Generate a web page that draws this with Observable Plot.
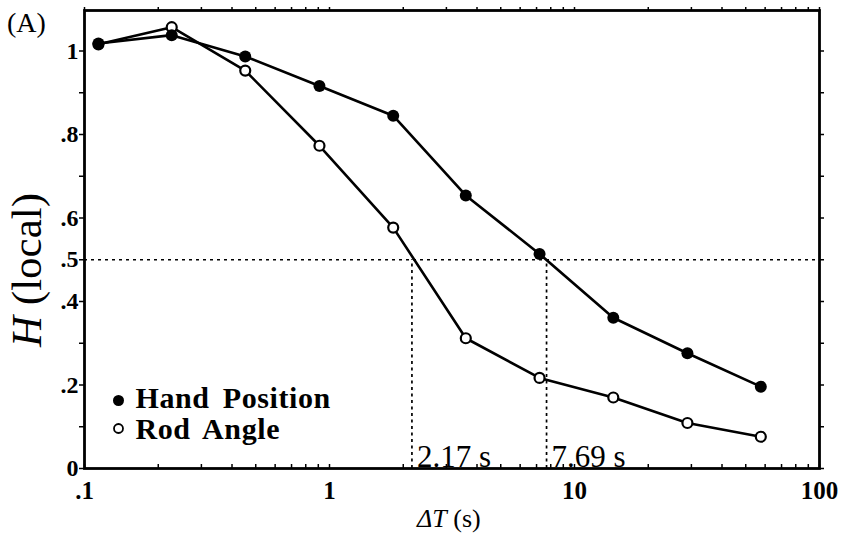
<!DOCTYPE html>
<html><head><meta charset="utf-8">
<script src="https://cdn.jsdelivr.net/npm/d3@7"></script>
<script src="https://cdn.jsdelivr.net/npm/@observablehq/plot@0.6"></script>
<style>body{margin:0;background:#fff} #chart{position:relative;width:842px;height:540px}</style>
</head><body><div id="chart"></div>
<script>
const seriesNames = ["Hand Position", "Rod Angle"];
const deltaT = [0.114, 0.227, 0.453, 0.91, 1.82, 3.6, 7.2, 14.4, 28.9, 57.6];
const handPosition = [1.018, 1.038, 0.987, 0.916, 0.845, 0.654, 0.514, 0.361, 0.276, 0.196];
const rodAngle = [1.016, 1.057, 0.953, 0.773, 0.577, 0.312, 0.217, 0.170, 0.109, 0.076];
const halfTimes = [2.17, 7.69];
const halfLevel = 0.5;
const xTickMajor = [0.1, 1, 10, 100];
const xTickAll = [0.1,0.2,0.3,0.4,0.5,0.6,0.7,0.8,0.9,1,2,3,4,5,6,7,8,9,10,20,30,40,50,60,70,80,90,100];
const yTicks = [0,0.1,0.2,0.3,0.4,0.5,0.6,0.7,0.8,0.9,1];
const yTickLabels = [0,0.2,0.4,0.5,0.6,0.8,1];

const serif = "'Liberation Serif','Times New Roman',serif";
const fmtNum = d => d === 0 ? "0" : String(d).replace(/^0\./, ".");

const handRows = deltaT.map((t, i) => ({t, H: handPosition[i], series: seriesNames[0]}));
const rodRows = deltaT.map((t, i) => ({t, H: rodAngle[i], series: seriesNames[1]}));
const rows = handRows.concat(rodRows);
const halfRows = halfTimes.map(t => ({t, level: halfLevel}));

const plot = Plot.plot({
  width: 842, height: 540,
  marginLeft: 84, marginRight: 23, marginTop: 10, marginBottom: 72,
  x: {type: "log", domain: [0.1, 100], label: null},
  y: {domain: [0, 1.097], label: null},
  style: {fontFamily: serif, background: "white", color: "black"},
  marks: [
    Plot.ruleY([halfLevel], {strokeDasharray: "3,4", strokeWidth: 1.7}),
    Plot.ruleX(halfRows, {x: "t", y1: () => 0, y2: "level", strokeDasharray: "3,3.5", strokeWidth: 1.7}),
    Plot.line(rows, {x: "t", y: "H", z: "series", stroke: "black", strokeWidth: 2.6}),
    Plot.dot(rodRows, {x: "t", y: "H", r: 5, fill: "white", stroke: "black", strokeWidth: 2.2}),
    Plot.dot(handRows, {x: "t", y: "H", r: 6, fill: "black"}),
    Plot.text(halfRows, {x: "t", y: () => 0, text: d => `${d.t} s`, textAnchor: "start", lineAnchor: "bottom", dx: 5, dy: -2, fontSize: 31}),
    Plot.axisX({ticks: xTickAll, anchor: "bottom", tickSize: -4, strokeWidth: 1.5, tickFormat: () => ""}),
    Plot.axisX({ticks: xTickAll, anchor: "top", tickSize: 4, strokeWidth: 1.5, tickFormat: () => ""}),
    Plot.axisX({ticks: xTickMajor, anchor: "bottom", tickSize: 0, tickPadding: 13, tickFormat: fmtNum, fontSize: 25, fontWeight: "bold"}),
    Plot.axisY({ticks: yTicks, anchor: "left", tickSize: 5, tickPadding: 1, strokeWidth: 1.5, tickFormat: d => yTickLabels.includes(d) ? fmtNum(d) : "", fontSize: 24, fontWeight: "bold"}),
    Plot.axisY({ticks: yTicks, anchor: "right", tickSize: 4, strokeWidth: 1.5, tickFormat: () => ""}),
    Plot.frame({stroke: "black", strokeWidth: 2.8}),
    Plot.dot([seriesNames[0]], {frameAnchor: "bottom-left", dx: 34, dy: -68, r: 5.5, fill: "black"}),
    Plot.dot([seriesNames[1]], {frameAnchor: "bottom-left", dx: 34, dy: -40, r: 4.5, fill: "white", stroke: "black", strokeWidth: 1.8}),
    Plot.text([seriesNames[0]], {text: d => d, frameAnchor: "bottom-left", dx: 51, dy: -61, textAnchor: "start", lineAnchor: "bottom", fontSize: 30, fontWeight: "bold"}),
    Plot.text([seriesNames[1]], {text: d => d, frameAnchor: "bottom-left", dx: 51, dy: -30, textAnchor: "start", lineAnchor: "bottom", fontSize: 30, fontWeight: "bold"})
  ]
});
document.getElementById("chart").appendChild(plot);

const svg = d3.select(plot);
svg.selectAll("text").filter(function() { return seriesNames.includes(this.textContent); })
  .style("letter-spacing", "0.6px").style("word-spacing", "5px");
svg.append("text").attr("x", 7).attr("y", 32).attr("text-anchor", "start").attr("font-size", 28).attr("font-family", serif).text("(A)");
const yt = svg.append("text").attr("transform", "translate(41,270) rotate(-90)").attr("text-anchor", "middle")
  .attr("font-size", 43).attr("font-family", serif);
yt.append("tspan").attr("font-style", "italic").text("H");
yt.append("tspan").text(" (local)");
const xt = svg.append("text").attr("x", 417).attr("y", 527).attr("text-anchor", "start").attr("font-size", 26).attr("font-family", serif);
xt.append("tspan").attr("font-style", "italic").text("ΔT");
xt.append("tspan").text(" (s)");
</script>
</body></html>
